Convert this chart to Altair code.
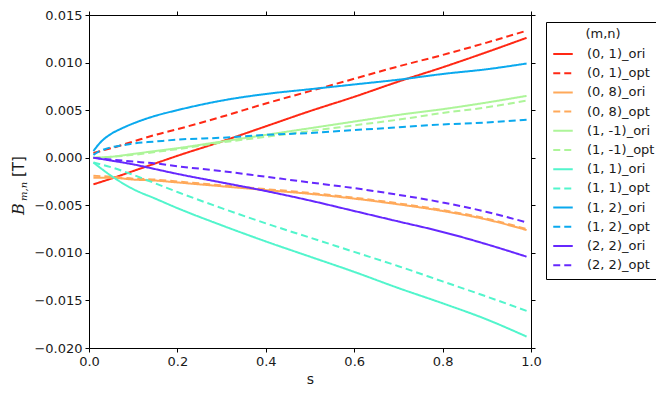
import altair as alt
import pandas as pd

# ---- data ----
s_vals = [0.01, 0.05, 0.10, 0.15, 0.20, 0.30, 0.40, 0.50, 0.60, 0.70, 0.80, 0.90, 0.99]
s_fine = [0.01, 0.02, 0.03, 0.05, 0.075, 0.10, 0.15, 0.20, 0.30, 0.40, 0.50, 0.60, 0.70, 0.80, 0.90, 0.99]

labels = ["(0, 1)_ori", "(0, 1)_opt", "(0, 8)_ori", "(0, 8)_opt",
          "(1, -1)_ori", "(1, -1)_opt", "(1, 1)_ori", "(1, 1)_opt",
          "(1, 2)_ori", "(1, 2)_opt", "(2, 2)_ori", "(2, 2)_opt"]

b01_ori = [-0.0028, -0.0022, -0.0014, -0.0006, 0.0002, 0.0017, 0.0033, 0.0049, 0.0064, 0.0080, 0.0095, 0.0111, 0.0126]
b01_opt = [0.0005, 0.0010, 0.0017, 0.0024, 0.0030, 0.0043, 0.0057, 0.0070, 0.0083, 0.0096, 0.0108, 0.0121, 0.01335]
b08_ori = [-0.0021, -0.0021, -0.0023, -0.0024, -0.0026, -0.0030, -0.0034, -0.0038, -0.0043, -0.0049, -0.0056, -0.0065, -0.0076]
b08_opt = [-0.0019, -0.0020, -0.0022, -0.0023, -0.0025, -0.0029, -0.0033, -0.0037, -0.0042, -0.0048, -0.0055, -0.0064, -0.0075]
b1m1_ori = [0.0000, 0.0001, 0.0004, 0.0007, 0.0010, 0.0017, 0.0024, 0.0031, 0.0038, 0.0045, 0.0051, 0.0058, 0.0065]
b1m1_opt = [0.0000, 0.0001, 0.0003, 0.0006, 0.0009, 0.0016, 0.0022, 0.0028, 0.0034, 0.0040, 0.0047, 0.0053, 0.0060]
b11_ori = [-0.0005, -0.0019, -0.0033, -0.0043, -0.0053, -0.0071, -0.0088, -0.0104, -0.0120, -0.0137, -0.0153, -0.0170, -0.0188]
b11_opt = [-0.0005, -0.0010, -0.0018, -0.0027, -0.0036, -0.0053, -0.0069, -0.0084, -0.0099, -0.0114, -0.0130, -0.0146, -0.0161]
b22_ori = [0.0000, -0.0003, -0.0007, -0.0012, -0.0017, -0.0026, -0.0035, -0.0045, -0.0056, -0.0067, -0.0078, -0.0091, -0.0104]
b22_opt = [0.0000, -0.0002, -0.0004, -0.0006, -0.0009, -0.0014, -0.0020, -0.0026, -0.0032, -0.0039, -0.0047, -0.0057, -0.0068]
# (1, 2) curves, sampled on the finer s grid
b12_ori = [0.0007, 0.0013, 0.0018, 0.0025, 0.0031, 0.0036, 0.0044, 0.0050, 0.0060, 0.0067, 0.0072, 0.0077, 0.0082, 0.0088, 0.0093, 0.0099]
b12_opt = [0.0003, 0.0006, 0.0008, 0.0011, 0.0013, 0.0015, 0.0017, 0.0019, 0.0021, 0.0024, 0.0026, 0.0029, 0.0032, 0.0035, 0.0037, 0.0040]

series = [b01_ori, b01_opt, b08_ori, b08_opt, b1m1_ori, b1m1_opt,
          b11_ori, b11_opt, b12_ori, b12_opt, b22_ori, b22_opt]

x_ticks = [0.0, 0.2, 0.4, 0.6, 0.8, 1.0]
y_ticks = [-0.020, -0.015, -0.010, -0.005, 0.000, 0.005, 0.010, 0.015]

pair_colors = ["#ff2814", "#ffa95a", "#adf599", "#52f5cc", "#0aa9ee", "#6628fe"]
colors = [c for c in pair_colors for _ in range(2)]
dashes = [[1, 0], [7, 4]] * 6

rows = []
for lab, vals in zip(labels, series):
    grid = s_fine if len(vals) == len(s_fine) else s_vals
    for i, (s, v) in enumerate(zip(grid, vals)):
        rows.append({"label": lab, "s": s, "v": v, "order": i})
df = pd.DataFrame(rows)

FONT = "DejaVu Sans"
TXT = "#1a1a1a"

legend = alt.Legend(
    title="(m,n)", orient="none", legendX=457, legendY=7,
    strokeColor="black", fillColor="white", padding=6, cornerRadius=0,
    titleFontSize=13, titleFontWeight="normal", titleFont=FONT, titleColor=TXT,
    titleAnchor="middle", titlePadding=2,
    labelFontSize=13, labelFont=FONT, labelColor=TXT, labelOffset=13,
    symbolType="stroke", symbolStrokeWidth=2, symbolSize=380, rowPadding=1.2,
)

xscale = alt.Scale(domain=[0, 1], nice=False, zero=False, padding=0)
yscale = alt.Scale(domain=[-0.020, 0.015], nice=False, zero=False, padding=0)

lines = alt.Chart(df).mark_line(strokeWidth=2, interpolate="monotone").encode(
    x=alt.X("s:Q", scale=xscale,
            axis=alt.Axis(values=x_ticks, format=".1f", title="s", titleFontSize=14,
                          titleFontWeight="normal", titlePadding=4, labelPadding=3,
                          labelFlush=False)),
    y=alt.Y("v:Q", scale=yscale,
            axis=alt.Axis(values=y_ticks, format=".3f", title=None, labelPadding=3,
                          labelFlush=False)),
    color=alt.Color("label:N", scale=alt.Scale(domain=labels, range=colors), legend=legend),
    strokeDash=alt.StrokeDash("label:N", scale=alt.Scale(domain=labels, range=dashes), legend=legend),
    order="order:Q",
)

frame = alt.Chart(df).mark_line(opacity=0).encode(
    x=alt.X("s:Q", scale=xscale,
            axis=alt.Axis(orient="top", values=x_ticks, labels=False, title=None)),
    y=alt.Y("v:Q", scale=yscale,
            axis=alt.Axis(orient="right", values=y_ticks, labels=False, title=None)),
    detail="label:N",
)

one = pd.DataFrame({"k": [0]})
t_b = alt.Chart(one).mark_text(angle=270, align="left", baseline="alphabetic",
                               font="DejaVu Serif", fontStyle="italic", fontSize=16, color=TXT).encode(
    x=alt.value(-65), y=alt.value(200), text=alt.value("B"))
t_sub = alt.Chart(one).mark_text(angle=270, align="left", baseline="alphabetic",
                                 font="DejaVu Serif", fontStyle="italic", fontSize=10, color=TXT).encode(
    x=alt.value(-62), y=alt.value(186), text=alt.value("m,n"))
t_t = alt.Chart(one).mark_text(angle=270, align="left", baseline="alphabetic",
                               font="DejaVu Sans", fontSize=15, color=TXT).encode(
    x=alt.value(-65), y=alt.value(162), text=alt.value("[T]"))

chart = alt.layer(lines, frame, t_b, t_sub, t_t).resolve_scale(
    x="independent", y="independent"
).properties(
    width=442, height=333,
    autosize=alt.AutoSizeParams(type="none"),
    padding={"left": 81, "top": 7, "right": 125, "bottom": 43},
).configure_view(stroke=None).configure_axis(
    grid=False, domainColor="black", tickColor="black", domainWidth=1, tickWidth=1,
    tickSize=4, labelFontSize=13, labelFont=FONT, labelColor=TXT,
    titleFont=FONT, titleColor=TXT,
)

chart.save("out.html", embed_options={"renderer": "svg", "actions": False})
